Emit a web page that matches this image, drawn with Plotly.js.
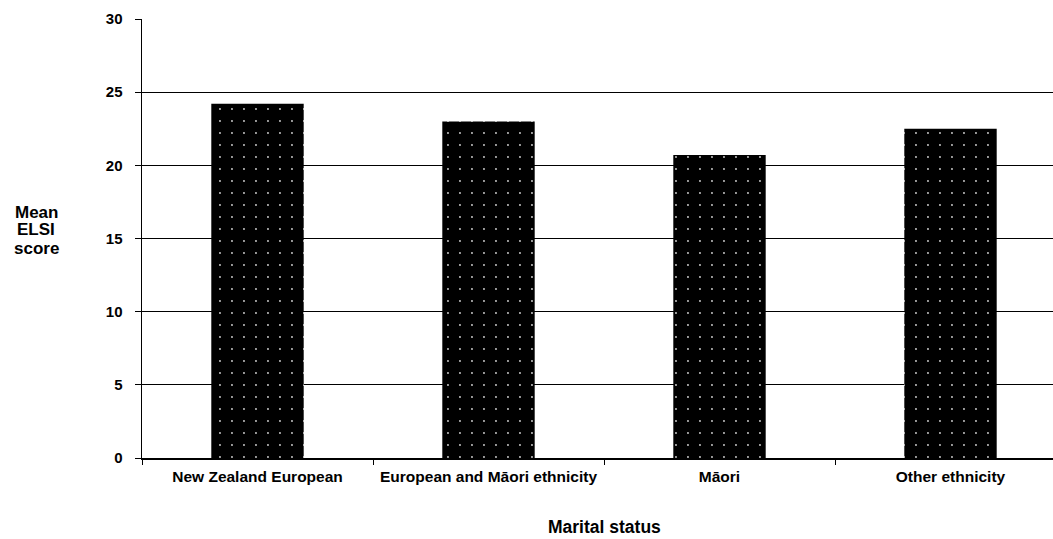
<!DOCTYPE html>
<html>
<head>
<meta charset="utf-8">
<script src="https://cdn.plot.ly/plotly-3.0.1.min.js"></script>
<style>
html, body { margin: 0; padding: 0; overflow: hidden; background: #fff; }
#chart { width: 1080px; height: 539px; }
</style>
</head>
<body>
<div id="chart"></div>
<script>
const categories = ["New Zealand European", "European and Māori ethnicity", "Māori", "Other ethnicity"];
const meanScores = [24.2, 23.0, 20.7, 22.5];
const yTickValues = [0, 5, 10, 15, 20, 25, 30];
const yTitleLines = ["Mean", "ELSI", "score"];
const xTitle = "Marital status";

const fam = "Liberation Sans, Arial, sans-serif";

const trace = {
  type: "bar",
  x: categories,
  y: meanScores,
  marker: {
    color: "#000",
    line: {width: 0},
    pattern: {shape: ".", fgcolor: "#cfcfcf", bgcolor: "#000", size: 12, solidity: 0.02}
  },
  hoverinfo: "x+y"
};

const plotTop = 19, plotH = 439;
function py(pix) { return (plotTop + plotH - pix) / plotH; }

const annotations = yTitleLines.map((t, i) => ({
  text: t,
  xref: "paper", yref: "paper",
  x: (36 - 142) / 924, y: py(212 + i * 18),
  xanchor: "center", yanchor: "middle",
  showarrow: false,
  font: {family: fam, size: 17, color: "#000", weight: "bold"}
}));
annotations.push({
  text: xTitle,
  xref: "paper", yref: "paper",
  x: 0.5, y: py(538),
  xanchor: "center", yanchor: "bottom",
  borderpad: 0,
  showarrow: false,
  font: {family: fam, size: 17.5, color: "#000", weight: "bold"}
});

const layout = {
  width: 1080,
  height: 539,
  margin: {l: 142, r: 14, t: plotTop, b: 539 - plotTop - plotH},
  paper_bgcolor: "#fff",
  plot_bgcolor: "#fff",
  bargap: 0.6,
  showlegend: false,
  font: {family: fam, size: 15, color: "#000"},
  xaxis: {
    type: "category",
    showline: true,
    linecolor: "#000",
    linewidth: 1.5,
    ticks: "outside",
    tickson: "boundaries",
    ticklen: 5,
    tickcolor: "#000",
    showgrid: false,
    ticklabelstandoff: 4,
    tickfont: {family: fam, size: 15.5, color: "#000", weight: "bold"},
    fixedrange: true
  },
  yaxis: {
    range: [0, 30],
    tickvals: yTickValues,
    ticktext: yTickValues.map(String),
    showline: true,
    linecolor: "#000",
    linewidth: 1.5,
    ticks: "outside",
    ticklen: 6,
    tickcolor: "#000",
    showgrid: true,
    gridcolor: "#000",
    gridwidth: 1,
    zeroline: false,
    ticklabelstandoff: 9,
    tickfont: {family: fam, size: 15, color: "#000", weight: "bold"},
    fixedrange: true
  },
  annotations: annotations
};

Plotly.newPlot("chart", [trace], layout, {displayModeBar: false, staticPlot: true});
</script>
</body>
</html>
